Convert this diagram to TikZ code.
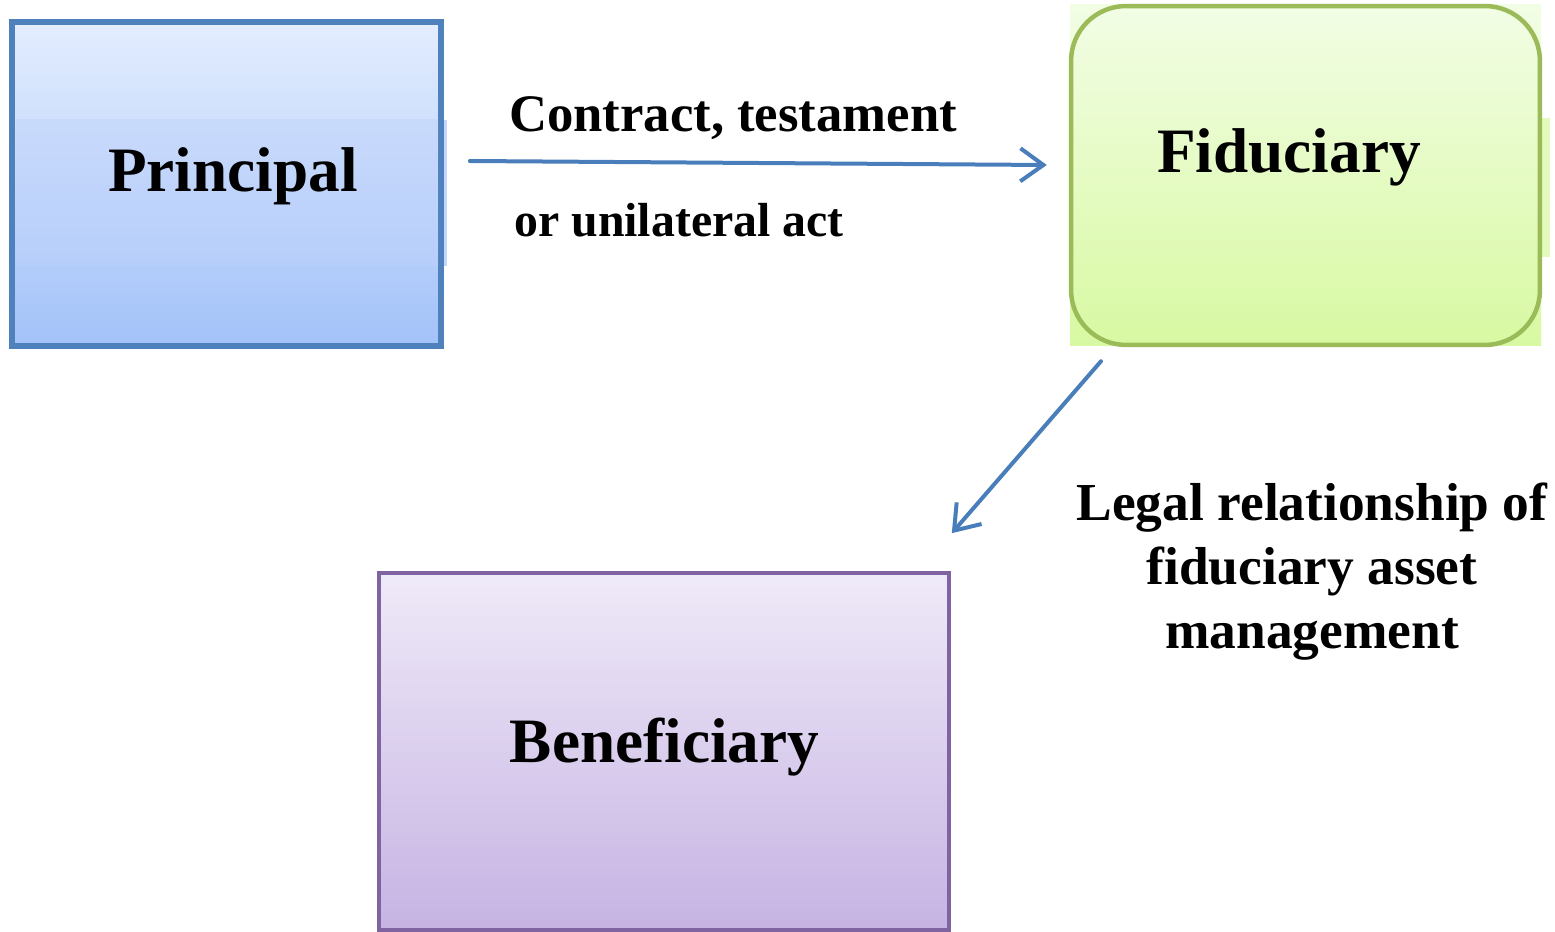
\documentclass[tikz,border=0pt]{standalone}
\usepackage{fontspec}
\setmainfont{Liberation Serif}
\usetikzlibrary{arrows.meta}

\definecolor{pBorder}{HTML}{4F81BD}
\definecolor{pTop}{HTML}{E3EDFE}
\definecolor{pBot}{HTML}{A3C2F9}
\definecolor{pBandTop}{HTML}{C3D6FB}
\definecolor{pBandBot}{HTML}{BAD0FB}
\definecolor{fBorder}{HTML}{9BBB59}
\definecolor{fTop}{HTML}{F2FDE5}
\definecolor{fBot}{HTML}{D8F9A2}
\definecolor{bBorder}{HTML}{8064A2}
\definecolor{bTop}{HTML}{EFEAF8}
\definecolor{bBot}{HTML}{C6B3E3}
\definecolor{arrowBlue}{HTML}{4A7EBB}

\begin{document}
\begin{tikzpicture}[x=0.02cm, y=-0.02cm,
  box/.style={draw, line width=0.075cm, inner sep=0pt, rectangle},
  title/.style={font=\fontsize{36}{40}\selectfont\bfseries, inner sep=0pt, anchor=base},
  caption/.style={font=\fontsize{30}{36.3}\selectfont\bfseries, inner sep=0pt, anchor=base, align=center},
  conn/.style={draw=arrowBlue, line width=0.08cm, line cap=round,
    -{Straight Barb[length=0.46cm, width=0.66cm, line width=0.08cm]}}]

\useasboundingbox (0,0) rectangle (1555,932);

% Principal box with its lighter side strips and middle band
\fill[pBandTop] (440,120) rectangle (447,266);
\fill[pBandTop] (10,150) rectangle (13,227);
\node[box, draw=pBorder, top color=pTop, bottom color=pBot,
      minimum width=8.54cm, minimum height=6.44cm] (principal) at (226.5,184) {};
\shade[top color=pBandTop, bottom color=pBandBot, opacity=0.55] (16,120) rectangle (438,266);
\draw[pBorder, line width=0.075cm] (principal.north west) rectangle (principal.south east);
\node[title] (principal-text) at (233,192) {Principal};

% Fiduciary: square backing with a rounded box on top
\shade[top color=fTop, bottom color=fBot] (1070,5) rectangle (1541,346);
\fill[fTop!40!fBot] (1541,118) rectangle (1550,257);
\node[box, draw=fBorder, line width=0.09cm, rounded corners=1.1cm,
      top color=fTop, bottom color=fBot,
      minimum width=9.38cm, minimum height=6.78cm] (fiduciary) at (1305.5,175.5) {};
\node[title] (fiduciary-text) at (1289,173) {Fiduciary};

% Beneficiary box
\node[box, draw=bBorder, top color=bTop, bottom color=bBot,
      minimum width=11.4cm, minimum height=7.14cm] (beneficiary) at (664,751.5) {};
\node[title] (beneficiary-text) at (664.5,762) {Beneficiary};

% Connectors
\draw[conn] ([shift={(28,-23)}]principal.east) -- ([shift={(-22,-10.5)}]fiduciary.west);
\draw[conn] ([shift={(-204.5,14)}]fiduciary.south) -- ([shift={(1,-38)}]beneficiary.north east);

% Connector labels
\node[caption] (contract) at (733,132) {Contract, testament};
\node[caption, font=\fontsize{27.2}{32}\selectfont\bfseries] (act) at (679,237) {or unilateral act};
\node[caption, font=\fontsize{30.4}{36.3}\selectfont\bfseries] (legal) at (1312,648) {Legal relationship of\\ fiduciary asset\\ management};

\end{tikzpicture}
\end{document}
